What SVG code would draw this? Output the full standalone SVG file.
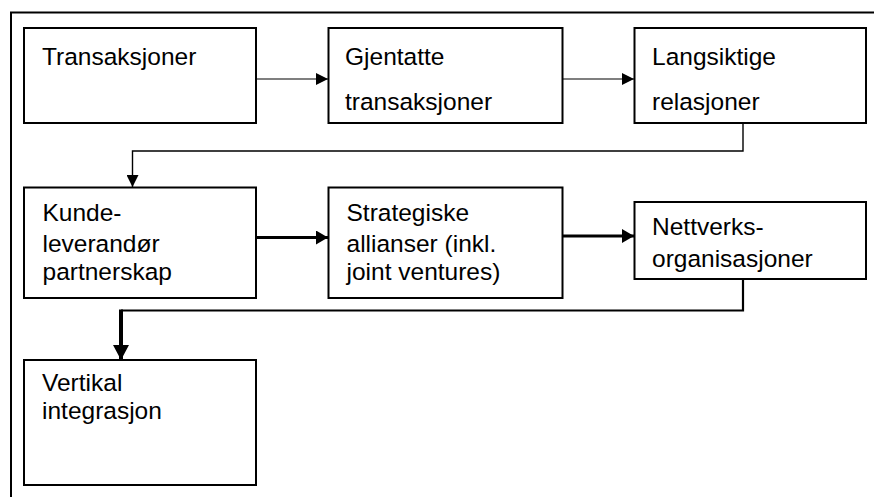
<svg xmlns="http://www.w3.org/2000/svg" width="874" height="497" viewBox="0 0 874 497">
<defs>
<style>
.box{fill:#fff;stroke:#000;stroke-width:2}
.t{font-family:"Liberation Sans",Arial,sans-serif;font-size:24.5px;fill:#000}
.c{fill:none;stroke:#000;stroke-linejoin:miter}
</style>
<marker id="ah" markerUnits="userSpaceOnUse" markerWidth="12" markerHeight="12" refX="12" refY="6" orient="auto">
<path d="M0,0 L12,6 L0,12 Z" fill="#000"/>
</marker>
<marker id="ahb" markerUnits="userSpaceOnUse" markerWidth="13" markerHeight="14" refX="12" refY="7" orient="auto">
<path d="M0,0 L12,7 L0,14 Z" fill="#000"/>
</marker>
<marker id="ahv" markerUnits="userSpaceOnUse" markerWidth="15" markerHeight="16" refX="15" refY="8" orient="auto">
<path d="M0,0 L15,8 L0,16 Z" fill="#000"/>
</marker>
</defs>
<rect width="874" height="497" fill="#fff"/>
<path d="M11,497 V12.5 H874" fill="none" stroke="#000" stroke-width="2"/>
<g id="connectors">
<path class="c" d="M256,79 H328" stroke-width="1.2" marker-end="url(#ah)"/>
<path class="c" d="M559,79 H634" stroke-width="1.2" marker-end="url(#ah)"/>
<path class="c" d="M743,123 V151 H132.5 V187" stroke-width="1.4" marker-end="url(#ah)"/>
<path class="c" d="M256,237.5 H328" stroke-width="3" marker-end="url(#ahb)"/>
<path class="c" d="M559,236 H634" stroke-width="3" marker-end="url(#ahb)"/>
<path class="c" d="M743,273 V310.5 H121" stroke-width="2.2"/>
<path class="c" d="M121,309.5 V360" stroke-width="4" marker-end="url(#ahv)"/>
</g>
<g id="n1"><rect class="box" x="24" y="28" width="232" height="95"/><text class="t" x="42" y="65">Transaksjoner</text></g>
<g id="n2"><rect class="box" x="328.5" y="28" width="234" height="95"/><text class="t" x="345" y="65">Gjentatte</text><text class="t" x="345" y="110">transaksjoner</text></g>
<g id="n3"><rect class="box" x="634.5" y="28" width="231.5" height="95"/><text class="t" x="652" y="65">Langsiktige</text><text class="t" x="652" y="110">relasjoner</text></g>
<g id="n4"><rect class="box" x="24" y="187.5" width="232" height="110.5"/><text class="t" x="42.5" y="221">Kunde-</text><text class="t" x="42.5" y="251.5">leverandør</text><text class="t" x="42.5" y="279.5">partnerskap</text></g>
<g id="n5"><rect class="box" x="328.5" y="187.5" width="234" height="110.5"/><text class="t" x="346.5" y="221">Strategiske</text><text class="t" x="346.5" y="251.5">allianser (inkl.</text><text class="t" x="346.5" y="280">joint ventures)</text></g>
<g id="n6"><rect class="box" x="634.5" y="202" width="231.5" height="77"/><text class="t" x="652" y="235">Nettverks-</text><text class="t" x="652" y="266.5">organisasjoner</text></g>
<g id="n7"><rect class="box" x="24" y="360" width="232" height="125"/><text class="t" x="42" y="391">Vertikal</text><text class="t" x="42" y="419">integrasjon</text></g>
</svg>
